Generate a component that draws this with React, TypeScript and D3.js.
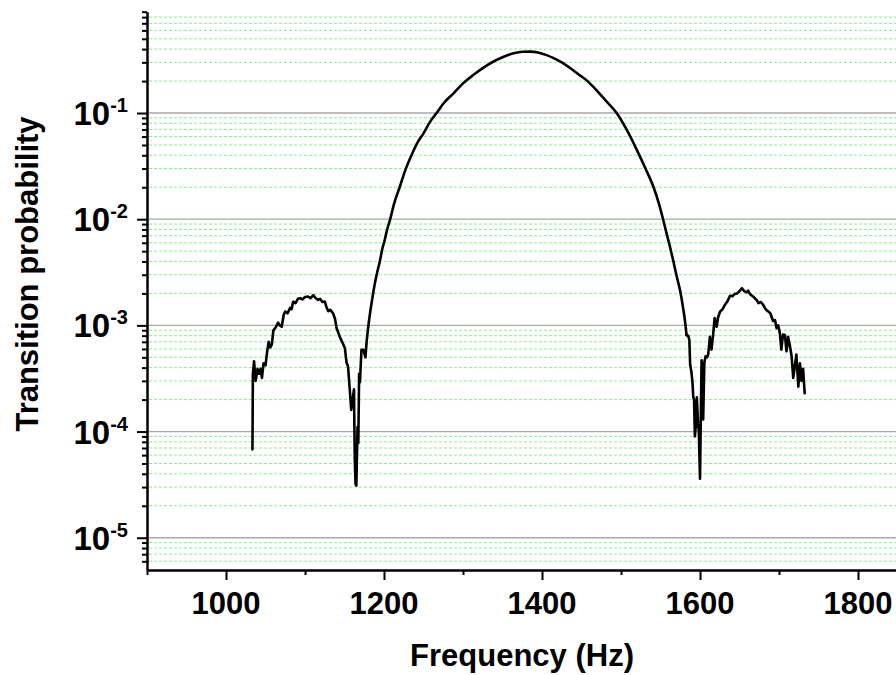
import React, { useEffect, useRef } from 'react';
import * as d3 from 'd3';

// lower side lobe (Hz, probability)
const leftLobe: [number, number][] = [
  [1033.5, 6.8e-5], [1034, 3.4e-4], [1035.5, 4.6e-4], [1037.5, 3.0e-4], [1040, 3.9e-4],
  [1042, 3.5e-4], [1044, 3.9e-4], [1045.5, 3.2e-4], [1047.5, 4.4e-4], [1050, 4.2e-4],
  [1052, 5.6e-4], [1054, 7.0e-4], [1056, 6.2e-4], [1058, 6.6e-4], [1060, 9.0e-4],
  [1063, 9.6e-4], [1066, 1.06e-3], [1068, 1.0e-3], [1070.5, 9.7e-4], [1073, 1.25e-3],
  [1075, 1.35e-3], [1078, 1.3e-3], [1081, 1.46e-3], [1083, 1.42e-3], [1085, 1.67e-3],
  [1088, 1.62e-3], [1091, 1.78e-3], [1094, 1.8e-3], [1097, 1.76e-3], [1100, 1.85e-3],
  [1104, 1.87e-3], [1107, 1.8e-3], [1110.5, 1.93e-3], [1113, 1.82e-3], [1116.5, 1.74e-3],
  [1119, 1.78e-3], [1122, 1.66e-3], [1125, 1.68e-3], [1127, 1.5e-3], [1129.5, 1.36e-3],
  [1132, 1.4e-3], [1135.5, 1.3e-3], [1138, 1.15e-3], [1140, 9.4e-4], [1142, 8.6e-4],
  [1144, 7.8e-4], [1147, 7.0e-4], [1150.5, 6.1e-4], [1152.5, 4.5e-4], [1154.5, 4.1e-4],
  [1157, 2.3e-4], [1158.5, 1.6e-4], [1160, 1.9e-4], [1162, 2.5e-4], [1163, 5.4e-5],
  [1164, 3.2e-5], [1165, 3.1e-5], [1166.5, 1.1e-4], [1167.5, 7.8e-5], [1168.5, 3.5e-4],
  [1169.5, 2.9e-4], [1171.5, 5.9e-4], [1174, 5.9e-4], [1176.5, 5.0e-4], [1178, 7.0e-4],
  [1180, 9.7e-4],
];

// central lobe (smooth)
const mainLobe: [number, number][] = [
  [1180, 9.7e-4], [1182, 1.25e-3], [1185, 1.75e-3], [1188.5, 2.5e-3],
  [1192, 3.3e-3], [1195, 4.1e-3], [1198, 5.3e-3], [1201, 6.4e-3], [1204, 8.0e-3],
  [1207.5, 9.8e-3], [1213, 0.0142], [1220, 0.0202], [1227, 0.029], [1235, 0.0403],
  [1242, 0.052], [1250, 0.0644], [1258, 0.082], [1266.5, 0.1], [1276, 0.125],
  [1288, 0.153], [1300, 0.19], [1313, 0.228], [1325, 0.265], [1338, 0.304],
  [1350, 0.335], [1364, 0.365], [1375, 0.378], [1385, 0.379], [1395, 0.372],
  [1405, 0.353], [1414, 0.331], [1425, 0.3], [1436, 0.264], [1446, 0.232],
  [1456.5, 0.203], [1467, 0.17], [1481, 0.13], [1494.5, 0.1], [1507, 0.07],
  [1520, 0.045], [1531, 0.03], [1541, 0.0202], [1548, 0.014], [1553.5, 0.0098],
  [1558, 0.0072], [1562, 0.0055], [1566, 0.0041], [1570.5, 0.0029],
  [1575, 0.0021], [1579, 0.0014], [1581, 0.0011], [1583, 8.1e-4],
];

// upper side lobe
const rightLobe: [number, number][] = [
  [1583, 8.1e-4], [1585, 8.0e-4], [1586.5, 7.3e-4], [1587.5, 4.3e-4], [1589, 3.7e-4],
  [1590.5, 2.9e-4], [1591.5, 2.1e-4], [1592.5, 2.0e-4], [1593.5, 9.0e-5], [1595, 1.2e-4],
  [1596, 2.1e-4], [1597.5, 1.2e-4], [1598.5, 1.0e-4], [1600, 3.6e-5], [1601.5, 2.5e-4],
  [1602, 4.7e-4], [1603, 3.0e-4], [1604, 1.3e-4], [1605.5, 4.5e-4], [1607, 5.1e-4],
  [1609, 5.0e-4], [1610.5, 5.4e-4], [1612.5, 7.8e-4], [1614.5, 5.9e-4], [1616.5, 8.0e-4],
  [1618.5, 1.17e-3], [1621, 9.7e-4], [1623, 1.2e-3], [1625.5, 1.35e-3], [1628, 1.4e-3],
  [1631.5, 1.56e-3], [1635, 1.7e-3], [1638, 1.9e-3], [1641, 1.88e-3], [1644, 1.98e-3],
  [1647, 2.0e-3], [1650, 2.1e-3], [1653, 2.24e-3], [1656, 2.1e-3], [1659, 2.05e-3],
  [1661, 2.12e-3], [1663, 1.98e-3], [1666, 1.9e-3], [1669.5, 1.8e-3], [1672, 1.72e-3],
  [1674, 1.62e-3], [1677, 1.66e-3], [1680, 1.56e-3], [1683, 1.42e-3], [1686.5, 1.35e-3],
  [1689, 1.3e-3], [1692.5, 1.1e-3], [1695, 1.12e-3], [1697, 9.4e-4], [1699, 1.0e-3],
  [1701, 8.5e-4], [1703, 5.9e-4], [1705, 8.2e-4], [1707.5, 8.1e-4], [1709.5, 5.7e-4],
  [1711.5, 7.8e-4], [1713.5, 6.6e-4], [1716, 5.1e-4], [1718, 3.2e-4], [1720, 4.1e-4],
  [1722, 5.3e-4], [1724.5, 2.65e-4], [1726.5, 4.4e-4], [1728.5, 3.0e-4], [1730.5, 3.9e-4],
  [1732.5, 2.3e-4],
];

const xMajorTicks = [1000, 1200, 1400, 1600, 1800];
const xMinorTicks = [900, 1100, 1300, 1500, 1700];
const yDecades = [-5, -4, -3, -2, -1];

const FONT = '"Liberation Sans", Arial, sans-serif';

const App = () => {
  const svgRef = useRef<SVGSVGElement>(null);

  useEffect(() => {
    const width = 896, height = 675;
    const svg = d3.select(svgRef.current).attr('width', width).attr('height', height);
    svg.selectAll('*').remove();

    const x = d3.scaleLinear().domain([900, 1900]).range([147, 937]);
    const y = d3.scaleLog().domain([5e-6, 0.9]).range([569.7, 11.7]);

    const majorVals = yDecades.map(e => Math.pow(10, e));
    const minorVals: number[] = [];
    [-6, -5, -4, -3, -2, -1].forEach(e => {
      for (let m = 2; m <= 9; m++) {
        const v = m * Math.pow(10, e);
        if (v >= 5e-6 && v <= 0.9) minorVals.push(v);
      }
    });

    // grid
    const grid = svg.append('g');
    grid.selectAll('line.minor')
      .data(minorVals.filter(v => v > 5.01e-6 && v < 0.85))
      .enter().append('line')
      .attr('x1', 149).attr('x2', width)
      .attr('y1', d => y(d)).attr('y2', d => y(d))
      .attr('stroke', '#88f088').attr('stroke-width', 1)
      .attr('stroke-dasharray', '3,2');
    grid.selectAll('line.major')
      .data(majorVals)
      .enter().append('line')
      .attr('x1', 149).attr('x2', width)
      .attr('y1', d => y(d)).attr('y2', d => y(d))
      .attr('stroke', '#a8a8a8').attr('stroke-width', 1.3);

    // curve
    const noisy = d3.line<[number, number]>()
      .x(d => x(d[0]))
      .y(d => y(d[1]));
    const smooth = d3.line<[number, number]>()
      .x(d => x(d[0]))
      .y(d => y(d[1]))
      .curve(d3.curveMonotoneX);
    const curves: [[number, number][], any][] = [
      [leftLobe, noisy], [mainLobe, smooth], [rightLobe, noisy],
    ];
    curves.forEach(([pts, gen]) => {
      svg.append('path')
        .datum(pts)
        .attr('d', gen)
        .attr('fill', 'none')
        .attr('stroke', '#000')
        .attr('stroke-width', 2.6)
        .attr('stroke-linejoin', 'round')
        .attr('stroke-linecap', 'round');
    });

    // y axis
    const yAxisMinor = d3.axisLeft(y).tickValues(minorVals).tickSize(5).tickSizeOuter(0).tickFormat(() => '');
    const yAxisMajor = d3.axisLeft(y).tickValues(majorVals).tickSize(10).tickSizeOuter(0).tickFormat(() => '');
    const gy1 = svg.append('g').attr('transform', 'translate(147,0)').call(yAxisMinor);
    const gy2 = svg.append('g').attr('transform', 'translate(147,0)').call(yAxisMajor);
    [gy1, gy2].forEach(g => {
      g.selectAll('path, line').attr('stroke', '#000').attr('stroke-width', 2);
    });

    // x axis
    const xAxisMinor = d3.axisBottom(x).tickValues(xMinorTicks).tickSize(5).tickSizeOuter(0).tickFormat(() => '');
    const xAxisMajor = d3.axisBottom(x).tickValues(xMajorTicks).tickSize(10).tickSizeOuter(0).tickFormat(() => '');
    const gx1 = svg.append('g').attr('transform', 'translate(0,570)').call(xAxisMinor);
    const gx2 = svg.append('g').attr('transform', 'translate(0,570)').call(xAxisMajor);
    [gx1, gx2].forEach(g => {
      g.selectAll('path, line').attr('stroke', '#000').attr('stroke-width', 2);
    });

    // x tick labels
    svg.append('g').selectAll('text')
      .data(xMajorTicks)
      .enter().append('text')
      .attr('x', d => x(d))
      .attr('y', 614)
      .attr('text-anchor', 'middle')
      .style('font-family', FONT).style('font-weight', 'bold').style('font-size', '31px')
      .text(d => d);

    // y tick labels: 10^n
    const yl = svg.append('g').selectAll('text')
      .data(yDecades)
      .enter().append('text')
      .attr('x', 128)
      .attr('y', d => y(Math.pow(10, d)) + 12)
      .attr('text-anchor', 'end')
      .style('font-family', FONT).style('font-weight', 'bold').style('font-size', '33px');
    yl.append('tspan').text('10');
    yl.append('tspan').attr('dy', -13).style('font-size', '20px').text(d => `${d}`);

    // axis titles
    svg.append('text')
      .attr('x', 522).attr('y', 666)
      .attr('text-anchor', 'middle')
      .style('font-family', FONT).style('font-weight', 'bold').style('font-size', '31px')
      .text('Frequency (Hz)');
    svg.append('text')
      .attr('transform', 'translate(38,274) rotate(-90)')
      .attr('text-anchor', 'middle')
      .style('font-family', FONT).style('font-weight', 'bold').style('font-size', '31px')
      .text('Transition probability');
  }, []);

  return (
    <div>
      <style>{'body{margin:0;}'}</style>
      <svg ref={svgRef} style={{ display: 'block' }}></svg>
    </div>
  );
};

export default App;
